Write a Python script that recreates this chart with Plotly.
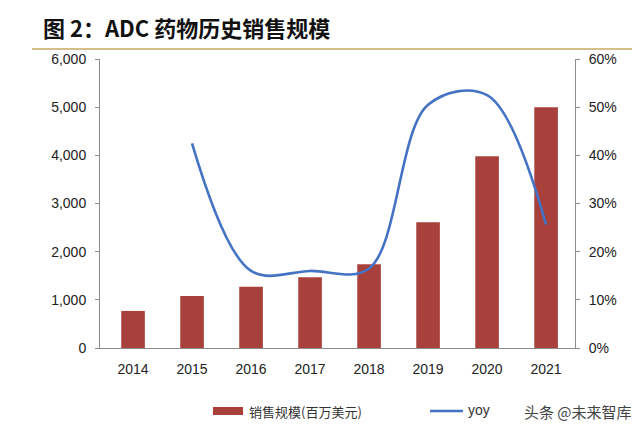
import plotly.graph_objects as go

years = ["2014", "2015", "2016", "2017", "2018", "2019", "2020", "2021"]
sales = [770, 1080, 1270, 1470, 1740, 2610, 3980, 5000]
yoy_years = ["2015", "2016", "2017", "2018", "2019", "2020", "2021"]
yoy = [42.5, 16.0, 16.0, 16.5, 50.5, 52.5, 25.6]
left_ticks = [0, 1000, 2000, 3000, 4000, 5000, 6000]
right_ticks = [0, 10, 20, 30, 40, 50, 60]
right_labels = [f"{v}%" for v in right_ticks]

BAR_COLOR = "#A8403B"
LINE_COLOR = "#4472C4"
font_family = "Liberation Sans, Arial, Noto Sans CJK SC, sans-serif"
cjk = "Noto Sans CJK SC, sans-serif"

# page body has an 8px default margin; lay out in reference pixels minus 8
OFF = 8
FIG_W, FIG_H = 640 - OFF, 433 - OFF
PL, PR, PT, PB = 100, 575, 59, 348  # plot area in reference pixels

fig = go.Figure()
fig.add_trace(go.Bar(
    x=years, y=sales, name="销售规模(百万美元)",
    marker=dict(color=BAR_COLOR, line=dict(width=0)), width=0.4,
))
fig.add_trace(go.Scatter(
    x=yoy_years, y=yoy, name="yoy", yaxis="y2", mode="lines",
    line=dict(color=LINE_COLOR, width=2.6, shape="spline", smoothing=1.0),
))

axis_common = dict(showgrid=False, zeroline=False, showline=True, linecolor="#8C8C8C",
                   linewidth=1, ticks="outside", ticklen=4, tickcolor="#8C8C8C",
                   ticklabelstandoff=6,
                   tickfont=dict(size=14, color="#222222", family=font_family))

fig.update_layout(
    width=FIG_W, height=FIG_H,
    margin=dict(l=PL - OFF, r=FIG_W - (PR - OFF), t=PT - OFF, b=FIG_H - (PB - OFF)),
    paper_bgcolor="white", plot_bgcolor="white",
    font=dict(family=font_family),
    showlegend=False,
    xaxis=dict(type="category", showline=True, linecolor="#8C8C8C", ticks="",
               ticklabelstandoff=8,
               tickfont=dict(size=14, color="#222222", family=font_family), range=[-0.56, 7.49]),
    yaxis=dict(range=[0, 6000], tickvals=left_ticks, tickformat=",d", **axis_common),
    yaxis2=dict(range=[0, 60], tickvals=right_ticks, ticktext=right_labels, overlaying="y",
                side="right", **axis_common),
)

W = PR - PL
H = PB - PT
def px(x):
    return (x - PL) / W
def py(y):
    return (PB - y) / H

# title
fig.add_annotation(text="<b>图 2：ADC 药物历史销售规模</b>", xref="paper", yref="paper",
                   x=px(41), y=py(27), xanchor="left", yanchor="middle",
                   showarrow=False, font=dict(size=22, color="#111111", family=cjk))
fig.add_shape(type="line", xref="paper", yref="paper", x0=px(32), x1=px(640),
              y0=py(49), y1=py(49), line=dict(color="#C9A865", width=1.5))

# legend
fig.add_shape(type="rect", xref="paper", yref="paper", x0=px(213), x1=px(243),
              y0=py(415), y1=py(407), fillcolor=BAR_COLOR, line=dict(width=0))
fig.add_annotation(text="销售规模(百万美元)", xref="paper", yref="paper", x=px(247), y=py(411),
                   xanchor="left", yanchor="middle", showarrow=False,
                   font=dict(size=13, color="#333333", family=cjk))
fig.add_shape(type="line", xref="paper", yref="paper", x0=px(430), x1=px(463),
              y0=py(411), y1=py(411), line=dict(color=LINE_COLOR, width=2.5))
fig.add_annotation(text="yoy", xref="paper", yref="paper", x=px(466), y=py(410),
                   xanchor="left", yanchor="middle", showarrow=False,
                   font=dict(size=14, color="#333333", family=font_family))

# watermark
fig.add_annotation(text="头条 @未来智库", xref="paper", yref="paper", x=px(634), y=py(411),
                   xanchor="right", yanchor="middle", showarrow=False,
                   font=dict(size=15, color="#444444", family=cjk))

fig.write_html("out.html")
